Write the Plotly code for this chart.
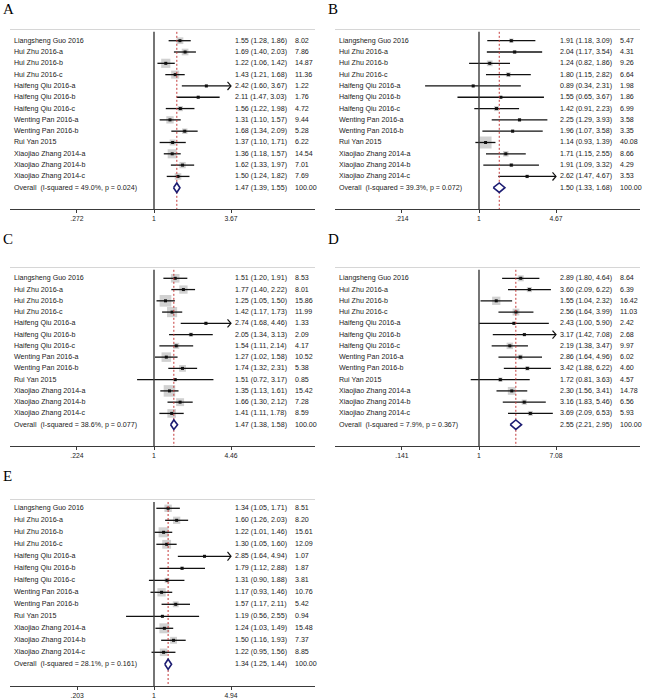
import math
import plotly.graph_objects as go

# ---- data ----
studies = ["Liangsheng Guo 2016", "Hui Zhu 2016-a", "Hui Zhu 2016-b", "Hui Zhu 2016-c",
           "Haifeng Qiu 2016-a", "Haifeng Qiu 2016-b", "Haifeng Qiu 2016-c",
           "Wenting Pan 2016-a", "Wenting Pan 2016-b", "Rui Yan 2015",
           "Xiaojiao Zhang 2014-a", "Xiaojiao Zhang 2014-b", "Xiaojiao Zhang 2014-c"]

or_a = [1.55, 1.69, 1.22, 1.43, 2.42, 2.11, 1.56, 1.31, 1.68, 1.37, 1.36, 1.62, 1.50]
lo_a = [1.28, 1.40, 1.06, 1.21, 1.60, 1.47, 1.22, 1.10, 1.34, 1.10, 1.18, 1.33, 1.24]
hi_a = [1.86, 2.03, 1.42, 1.68, 3.67, 3.03, 1.98, 1.57, 2.09, 1.71, 1.57, 1.97, 1.82]
w_a = [8.02, 7.86, 14.87, 11.36, 1.22, 1.76, 4.72, 9.44, 5.28, 6.22, 14.54, 7.01, 7.69]
overall_a = [1.47, 1.39, 1.55]
het_a = [49.0, 0.024]
ticks_a = [".272", "1", "3.67"]

or_b = [1.91, 2.04, 1.24, 1.80, 0.89, 1.55, 1.42, 2.25, 1.96, 1.14, 1.71, 1.91, 2.62]
lo_b = [1.18, 1.17, 0.82, 1.15, 0.34, 0.65, 0.91, 1.29, 1.07, 0.93, 1.15, 1.09, 1.47]
hi_b = [3.09, 3.54, 1.86, 2.82, 2.31, 3.67, 2.23, 3.93, 3.58, 1.39, 2.55, 3.32, 4.67]
w_b = [5.47, 4.31, 9.26, 6.64, 1.98, 1.86, 6.99, 3.58, 3.35, 40.08, 8.66, 4.29, 3.53]
overall_b = [1.50, 1.33, 1.68]
het_b = [39.3, 0.072]
ticks_b = [".214", "1", "4.67"]

or_c = [1.51, 1.77, 1.25, 1.42, 2.74, 2.05, 1.54, 1.27, 1.74, 1.51, 1.35, 1.66, 1.41]
lo_c = [1.20, 1.40, 1.05, 1.17, 1.68, 1.34, 1.11, 1.02, 1.32, 0.72, 1.13, 1.30, 1.11]
hi_c = [1.91, 2.22, 1.50, 1.73, 4.46, 3.13, 2.14, 1.58, 2.31, 3.17, 1.61, 2.12, 1.78]
w_c = [8.53, 8.01, 15.86, 11.99, 1.33, 2.09, 4.17, 10.52, 5.38, 0.85, 15.42, 7.28, 8.59]
overall_c = [1.47, 1.38, 1.58]
het_c = [38.6, 0.077]
ticks_c = [".224", "1", "4.46"]

or_d = [2.89, 3.60, 1.55, 2.56, 2.43, 3.17, 2.19, 2.86, 3.42, 1.72, 2.30, 3.16, 3.69]
lo_d = [1.80, 2.09, 1.04, 1.64, 1.00, 1.42, 1.38, 1.64, 1.88, 0.81, 1.56, 1.83, 2.09]
hi_d = [4.64, 6.22, 2.32, 3.99, 5.90, 7.08, 3.47, 4.96, 6.22, 3.63, 3.41, 5.46, 6.53]
w_d = [8.64, 6.39, 16.42, 11.03, 2.42, 2.68, 9.97, 6.02, 4.60, 4.57, 14.78, 6.56, 5.93]
overall_d = [2.55, 2.21, 2.95]
het_d = [7.9, 0.367]
ticks_d = [".141", "1", "7.08"]

or_e = [1.34, 1.60, 1.22, 1.30, 2.85, 1.79, 1.31, 1.17, 1.57, 1.19, 1.24, 1.50, 1.22]
lo_e = [1.05, 1.26, 1.01, 1.05, 1.64, 1.12, 0.90, 0.93, 1.17, 0.56, 1.03, 1.16, 0.95]
hi_e = [1.71, 2.03, 1.46, 1.60, 4.94, 2.88, 1.88, 1.46, 2.11, 2.55, 1.49, 1.93, 1.56]
w_e = [8.51, 8.20, 15.61, 12.09, 1.07, 1.87, 3.81, 10.76, 5.42, 0.94, 15.48, 7.37, 8.85]
overall_e = [1.34, 1.25, 1.44]
het_e = [28.1, 0.161]
ticks_e = [".203", "1", "4.94"]

panels = [
    ("A", or_a, lo_a, hi_a, w_a, overall_a, het_a, ticks_a),
    ("B", or_b, lo_b, hi_b, w_b, overall_b, het_b, ticks_b),
    ("C", or_c, lo_c, hi_c, w_c, overall_c, het_c, ticks_c),
    ("D", or_d, lo_d, hi_d, w_d, overall_d, het_d, ticks_d),
    ("E", or_e, lo_e, hi_e, w_e, overall_e, het_e, ticks_e),
]

# ---- layout (pixels) ----
W, H = 650, 698
FONT = "Liberation Sans, Arial, sans-serif"
FS = 7.1
TXT = "#222222"
geo = {
    "A": dict(x0=0, letter_y=8.6, head_y=18.5, line_y=29, first_y=40.7, step=11.31, axis_y=209, box=9.2),
    "B": dict(x0=325, letter_y=8.6, head_y=18.5, line_y=29, first_y=40.7, step=11.31, axis_y=209, box=12),
    "C": dict(x0=0, letter_y=239, head_y=253, line_y=267, first_y=278.3, step=11.26, axis_y=446, box=11.7),
    "D": dict(x0=325, letter_y=239, head_y=253, line_y=267, first_y=278.3, step=11.26, axis_y=446, box=8.3),
    "E": dict(x0=0, letter_y=476, head_y=489, line_y=499, first_y=508.3, step=12.0, axis_y=686, box=10),
}
AX_L, AX_R = 10, 315      # axis line extent within a panel
ONE_PX, TMAX_PX = 154, 231  # where "1" and the upper tick sit

fig = go.Figure()
annotations = []
shapes = []

for i, (letter, est, lo, hi, w, ov, het, ticks) in enumerate(panels):
    n = i + 1
    xa = "x" if n == 1 else "x%d" % n
    ya = "y" if n == 1 else "y%d" % n
    g = geo[letter]
    x0 = g["x0"]

    def row_of(px):
        return 1 + (px - g["first_y"]) / g["step"]

    r_top = row_of(g["line_y"])
    r_bot = row_of(g["axis_y"])
    r_head = row_of(g["head_y"])

    tickvals = [float(t) for t in ticks]
    tmax = tickvals[-1]
    L = math.log10(tmax)
    f1 = (ONE_PX - AX_L) / (AX_R - AX_L)
    f2 = (TMAX_PX - AX_L) / (AX_R - AX_L)
    span = L / (f2 - f1)
    xlo = -f1 * span
    xhi = xlo + span
    px_per = (AX_R - AX_L) / span

    rows = list(range(1, len(studies) + 1))
    wmax = max(w)

    # weight boxes
    fig.add_trace(go.Scatter(
        x=est, y=rows, xaxis=xa, yaxis=ya, mode="markers",
        marker=dict(symbol="square", color="#bdbdbd",
                    size=[g["box"] * math.sqrt(v / wmax) for v in w], line=dict(width=0)),
        hoverinfo="skip", showlegend=False))

    # CI lines, with an arrow where the interval runs past the axis
    xs, ys, axs, ays = [], [], [], []
    for k in range(len(studies)):
        r = rows[k]
        top = min(hi[k], tmax)
        xs += [lo[k], top, None]
        ys += [r, r, None]
        if hi[k] >= tmax:
            back = 10 ** (L - 3.5 / px_per)
            axs += [back, tmax, back, None]
            ays += [r - 0.36, r, r + 0.36, None]
    fig.add_trace(go.Scatter(x=xs, y=ys, xaxis=xa, yaxis=ya, mode="lines",
                             line=dict(color="#111", width=1.3),
                             hoverinfo="skip", showlegend=False))
    if axs:
        fig.add_trace(go.Scatter(x=axs, y=ays, xaxis=xa, yaxis=ya, mode="lines",
                                 line=dict(color="#111", width=1.2),
                                 hoverinfo="skip", showlegend=False))

    # point estimates
    fig.add_trace(go.Scatter(
        x=est, y=rows, xaxis=xa, yaxis=ya, mode="markers",
        marker=dict(symbol="square", color="#111", size=3, line=dict(width=0)),
        hoverinfo="skip", showlegend=False))

    # null line and overall dashed line
    fig.add_trace(go.Scatter(x=[1, 1], y=[r_top + 0.25, r_bot], xaxis=xa, yaxis=ya,
                             mode="lines", line=dict(color="#3a3a3a", width=1.4),
                             hoverinfo="skip", showlegend=False))
    fig.add_trace(go.Scatter(x=[ov[0], ov[0]], y=[r_top + 0.25, r_bot], xaxis=xa, yaxis=ya,
                             mode="lines", line=dict(color="#c43a3a", width=1, dash="2px,2px"),
                             hoverinfo="skip", showlegend=False))

    # overall diamond
    ro = len(studies) + 1
    fig.add_trace(go.Scatter(
        x=[ov[1], ov[0], ov[2], ov[0], ov[1]],
        y=[ro, ro - 0.42, ro, ro + 0.42, ro],
        xaxis=xa, yaxis=ya, mode="lines", fill="toself", fillcolor="white",
        line=dict(color="#1c1c72", width=1.6), hoverinfo="skip", showlegend=False))

    fig.layout["xaxis" if n == 1 else "xaxis%d" % n] = dict(
        type="log", range=[xlo, xhi],
        domain=[(x0 + AX_L) / W, (x0 + AX_R) / W], anchor=ya,
        showgrid=False, zeroline=False, showline=True, linecolor="#3a3a3a", linewidth=1.3,
        ticks="outside", ticklen=3, tickwidth=1, tickcolor="#3a3a3a",
        tickvals=tickvals, ticktext=ticks,
        tickfont=dict(family=FONT, size=6.8, color=TXT))
    fig.layout["yaxis" if n == 1 else "yaxis%d" % n] = dict(
        domain=[1 - g["axis_y"] / H, 1 - g["line_y"] / H],
        range=[r_bot, r_top], anchor=xa, visible=False)

    # header rule
    shapes.append(dict(type="line", xref=xa + " domain", x0=0, x1=1,
                       yref=ya, y0=r_top, y1=r_top,
                       line=dict(color="#d6d6d6", width=2)))

    def txt(s, px, r):
        annotations.append(dict(text=s, x=(x0 + px) / W, xref="paper", y=r, yref=ya,
                                xanchor="left", yanchor="middle", showarrow=False,
                                borderpad=0,
                                font=dict(family=FONT, size=FS, color=TXT)))

    txt("Study", 13, r_head)
    txt("ID", 40, r_head)
    txt("OR (95% CI)", 234, r_head)
    txt("Weight", 293, r_head)
    txt("%", 320, r_head)

    for k in range(len(studies)):
        txt(studies[k], 13, rows[k])
        txt("%.2f (%.2f, %.2f)" % (est[k], lo[k], hi[k]), 234, rows[k])
        txt("%.2f" % w[k], 294, rows[k])
    txt("Overall\u00a0\u00a0(I-squared = %.1f%%, p = %.3f)" % (het[0], het[1]), 13, ro)
    txt("%.2f (%.2f, %.2f)" % (ov[0], ov[1], ov[2]), 234, ro)
    txt("100.00", 294, ro)

    annotations.append(dict(text=letter, x=(x0 + 1) / W, xref="paper",
                            y=1 - g["letter_y"] / H, yref="paper",
                            xanchor="left", yanchor="middle", showarrow=False,
                            font=dict(family="Liberation Serif, Times New Roman, serif",
                                      size=15, color="#000")))

fig.update_layout(
    width=W, height=H,
    margin=dict(l=0, r=0, t=0, b=0),
    paper_bgcolor="white", plot_bgcolor="white",
    annotations=annotations, shapes=shapes,
    showlegend=False)

# the page's default 8px body margin would push the figure off the window
fig.write_html("out.html", config={"displayModeBar": False},
               post_script="document.body.style.margin='0';")
